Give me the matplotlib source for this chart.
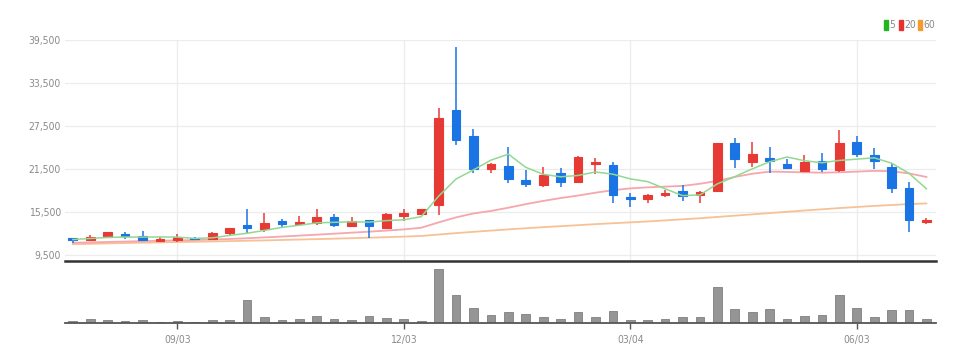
import matplotlib
matplotlib.use("Agg")
import matplotlib.pyplot as plt
import numpy as np

# weekly candles, red = up, blue = down
opens = [11760, 11570, 11990, 12330, 12090, 11350, 11530, 11850, 11710, 12470,
         13670, 13070, 14140, 13720, 13950, 14790, 13490, 14320, 13170, 14880,
         15160, 16420, 29710, 26120, 21500, 21880, 19920, 19260, 20860, 19600,
         22120, 22020, 17580, 17220, 17780, 18380, 17820, 18380, 25140, 22480,
         22960, 22160, 21180, 22620, 21320, 25190, 23420, 21780, 18760, 14050]
highs = [11800, 12230, 12650, 12650, 12790, 11990, 12330, 11950, 12650, 13250,
         15900, 15350, 14420, 14880, 15900, 15160, 14790, 14400, 15350, 15820,
         15900, 29950, 38480, 27010, 22340, 24490, 21320, 21780, 21560, 23280,
         22960, 22480, 18140, 17960, 18520, 19220, 18400, 25100, 25750, 25280,
         24580, 22820, 23420, 23660, 26910, 26070, 24350, 22340, 19680, 14650]
lows = [11150, 11390, 11770, 11710, 11500, 11350, 11300, 11600, 11600, 12230,
        12550, 12690, 13170, 13600, 13630, 13310, 13310, 11850, 13100, 14230,
        15000, 15020, 24820, 20860, 20940, 19540, 18900, 18980, 18980, 19460,
        20760, 16740, 16100, 16660, 17500, 17020, 16660, 18300, 21640, 21780,
        20860, 21420, 21100, 21080, 21080, 23180, 21420, 18060, 12690, 13770]
closes = [11530, 11990, 12610, 12050, 11530, 11630, 11900, 11670, 12470, 13170,
          13210, 13860, 13770, 14000, 14790, 13630, 14230, 13490, 15120, 15350,
          15820, 28550, 25510, 21460, 22160, 20020, 19360, 20620, 19680, 23100,
          22480, 17820, 17300, 17780, 18140, 17680, 18280, 25050, 22820, 23560,
          22620, 21640, 22480, 21420, 25140, 23510, 22580, 18760, 14330, 14330]

ma5 = [11600, 11750, 11900, 11950, 11940, 11960, 11940, 11760, 11840, 12170,
       12480, 12880, 13300, 13600, 13930, 14010, 14080, 14030, 14250, 14360,
       14800, 17670, 20070, 21340, 22700, 23540, 21700, 20720, 20370, 20560,
       21050, 20740, 20080, 19700, 18700, 17740, 17840, 19390, 20390, 21480,
       22470, 23140, 22620, 22340, 22660, 22840, 23030, 22280, 20860, 18700]
ma20 = [11150, 11200, 11260, 11320, 11380, 11430, 11480, 11530, 11600, 11680,
        11780, 11900, 12020, 12150, 12280, 12420, 12560, 12700, 12850, 13020,
        13250, 14000, 14700, 15250, 15600, 16050, 16550, 17000, 17400, 17750,
        18150, 18500, 18750, 18900, 19000, 19100, 19400, 19800, 20350, 20800,
        21100, 21050, 21000, 20950, 21000, 21100, 21200, 21150, 20850, 20350]
ma60 = [10950, 11000, 11060, 11110, 11160, 11200, 11250, 11290, 11330, 11380,
        11430, 11480, 11540, 11600, 11660, 11720, 11790, 11860, 11930, 12010,
        12100, 12300, 12500, 12680, 12850, 13020, 13180, 13330, 13470, 13610,
        13750, 13880, 14000, 14130, 14280, 14430, 14580, 14760, 14940, 15120,
        15300, 15480, 15660, 15830, 16000, 16150, 16300, 16430, 16560, 16650]

volume = [200000, 400000, 270000, 200000, 270000, 130000, 200000, 100000, 300000, 300000,
          2270000, 630000, 300000, 400000, 730000, 430000, 300000, 700000, 500000, 400000,
          230000, 5400000, 2770000, 1530000, 800000, 1100000, 930000, 630000, 400000, 1130000,
          630000, 1230000, 270000, 270000, 430000, 630000, 570000, 3600000, 1430000, 1130000,
          1370000, 400000, 700000, 800000, 2770000, 1530000, 570000, 1270000, 1270000, 400000]

tick_idx = [6, 19, 32, 45]
tick_labels = ["09/03", "12/03", "03/04", "06/03"]
y_ticks = [9500, 15500, 21500, 27500, 33500, 39500]

legend_labels = ["5", "20", "60"]
legend_colors = ["#22b522", "#e8312f", "#f59a2c"]
legend_x = [884, 899, 918]

RED = "#e83a35"
BLUE = "#1a74e4"
GRID = "#ececec"
LABEL = "#8a8a8a"
FONT = dict(family="DejaVu Sans", stretch="condensed")

x = np.arange(len(closes))
o = np.array(opens)
c = np.array(closes)
up = c >= o
colors = np.where(up, RED, BLUE)

fig = plt.figure(figsize=(9.73, 3.63), dpi=100)
ax = fig.add_axes([65 / 973, 1 - 261 / 363, 871 / 973, 221 / 363])
axv = fig.add_axes([65 / 973, 1 - 323 / 363, 871 / 973, 57 / 363])

# price panel
ax.vlines(x, lows, highs, colors=colors, linewidth=1.1, zorder=3)
ax.bar(x, np.abs(c - o), bottom=np.minimum(o, c), width=0.5, color=colors,
       edgecolor=colors, linewidth=0.8, zorder=4)
ax.plot(x, ma60, color="#f7c196", linewidth=1.3, zorder=2)
ax.plot(x, ma20, color="#f5a7ad", linewidth=1.3, zorder=2)
ax.plot(x, ma5, color="#92d892", linewidth=1.1, zorder=5)

ax.set_xlim(-0.45, 49.55)
ax.set_ylim(8600, 39500)
ax.set_yticks(y_ticks)
ax.set_yticklabels([f"{v:,}" for v in y_ticks], color=LABEL, fontsize=7.5, **FONT)
ax.set_xticks(tick_idx)
ax.set_xticklabels([])
ax.tick_params(axis="both", length=0, pad=3)
ax.grid(True, color=GRID, linewidth=0.9)
ax.set_axisbelow(True)
for s in ["top", "right", "left"]:
    ax.spines[s].set_visible(False)
ax.spines["bottom"].set_color("#333333")
ax.spines["bottom"].set_linewidth(1.8)

# legend
for label, col, lx in zip(legend_labels, legend_colors, legend_x):
    fig.patches.append(plt.Rectangle((lx / 973, 1 - 29.5 / 363), 4 / 973, 9 / 363,
                                     transform=fig.transFigure, color=col))
    fig.text((lx + 5.5) / 973, 1 - 25 / 363, label, color=LABEL, fontsize=7.5,
             va="center", ha="left", **FONT)

# volume panel
axv.bar(x, volume, width=0.5, color="#959595", edgecolor="#808080", linewidth=0.6)
axv.set_xlim(-0.45, 49.55)
axv.set_ylim(0, 5700000)
axv.set_yticks([])
axv.set_xticks(tick_idx)
axv.set_xticklabels(tick_labels, color=LABEL, fontsize=7.5, **FONT)
axv.tick_params(axis="x", length=4, width=1, color="#555555", pad=5)
for s in ["top", "right", "left"]:
    axv.spines[s].set_visible(False)
axv.spines["bottom"].set_color("#555555")
axv.spines["bottom"].set_linewidth(1.3)

fig.savefig("out.png", dpi=100)
